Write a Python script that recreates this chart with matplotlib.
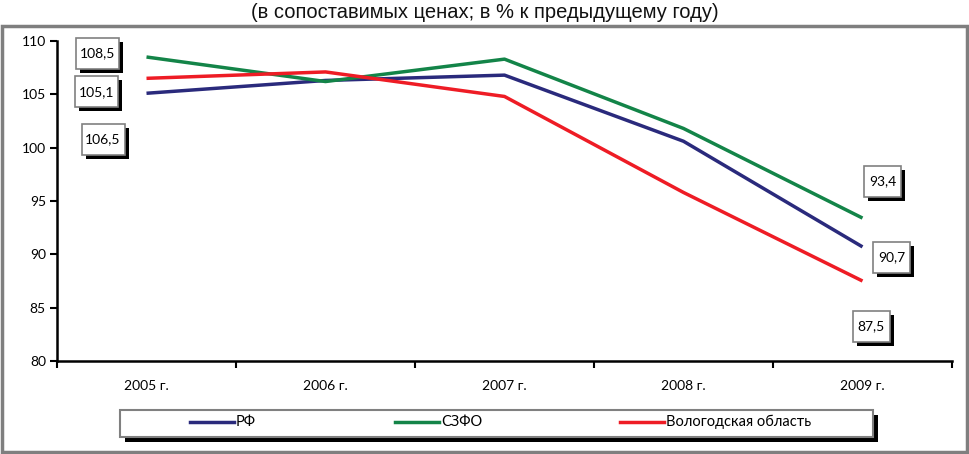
import matplotlib
matplotlib.use("Agg")
import matplotlib.pyplot as plt
from matplotlib.patches import Rectangle
from matplotlib.lines import Line2D
import matplotlib.transforms as mtransforms

years = ["2005 г.", "2006 г.", "2007 г.", "2008 г.", "2009 г."]
rf = [105.1, 106.3, 106.8, 100.6, 90.7]
szfo = [108.5, 106.2, 108.3, 101.8, 93.4]
vologda = [106.5, 107.1, 104.8, 95.8, 87.5]
series_names = ["РФ", "СЗФО", "Вологодская область"]
colors = ["#2a2a7c", "#138448", "#ee1c25"]
yticks = [80, 85, 90, 95, 100, 105, 110]
title = "(в сопоставимых ценах; в % к предыдущему году)"

plt.rcParams['font.family'] = ['Lato', 'DejaVu Sans']

W, H = 970, 454
DPI = 100
fig = plt.figure(figsize=(W / DPI, H / DPI), dpi=DPI)

def fx(x):
    return x / W

def fy(y):
    return 1 - y / H

# outer frame
fig.patches.append(Rectangle((fx(2), fy(452)), fx(965), 426 / H, transform=fig.transFigure,
                             fill=False, edgecolor="#7f7f7f", linewidth=2.5))

fig.text(0.5, fy(12), title, ha="center", va="center", fontsize=14.5,
         family=['Liberation Sans', 'DejaVu Sans'], color="#111111")

ax = fig.add_axes([fx(57), fy(361), fx(952 - 57), 320 / H])
x = list(range(len(years)))
for vals, c in zip([rf, szfo, vologda], colors):
    ax.plot(x, vals, color=c, linewidth=2.5, solid_capstyle="butt", zorder=3)

ax.set_xlim(-0.5, len(years) - 0.5)
ax.set_ylim(80, 110)
ax.set_yticks(yticks)
ax.set_yticklabels([str(v) for v in yticks], fontsize=10)
ax.set_xticks(x)
ax.set_xticklabels(years, fontsize=10)
ax.tick_params(axis="x", length=0, pad=14)
ax.set_xticks([i - 0.5 for i in range(len(years) + 1)], minor=True)
ax.tick_params(axis="x", which="minor", length=5, width=1.5, direction="out")
ax.tick_params(axis="y", length=5, width=1.5, direction="out", pad=3)
for s in ["top", "right"]:
    ax.spines[s].set_visible(False)
ax.spines["left"].set_linewidth(1.8)
ax.spines["bottom"].set_linewidth(1.8)

# data labels with shadowed boxes: (series value, label x, label y)
labels = [
    (szfo[0], -0.274, 108.83),
    (rf[0], -0.28, 105.22),
    (vologda[0], -0.243, 100.77),
    (szfo[4], 4.114, 96.87),
    (rf[4], 4.164, 89.75),
    (vologda[4], 4.05, 83.28),
]
for v, lx, ly in labels:
    s = f"{v:.1f}".replace(".", ",")
    wpx = 43 if len(s) == 5 else 37
    hpx = 31
    base = fig.dpi_scale_trans + mtransforms.ScaledTranslation(lx, ly, ax.transData)
    sh = Rectangle(((-wpx / 2 + 4) / DPI, (-hpx / 2 - 4) / DPI), wpx / DPI, hpx / DPI,
                   transform=base, facecolor="black", edgecolor="none", zorder=4,
                   clip_on=False)
    bx = Rectangle((-wpx / 2 / DPI, -hpx / 2 / DPI), wpx / DPI, hpx / DPI,
                   transform=base, facecolor="white", edgecolor="#808080", linewidth=1.2,
                   zorder=4.5, clip_on=False)
    ax.add_patch(sh)
    ax.add_patch(bx)
    ax.text(lx, ly, s, ha="center", va="center", fontsize=10, zorder=5)

# legend
lx0, ly0, lx1, ly1 = 120, 410, 873, 437
shadow = Rectangle((fx(lx0 + 5), fy(ly1 + 5)), fx(lx1 - lx0), (ly1 - ly0) / H,
                   transform=fig.transFigure, facecolor="black", edgecolor="none")
box = Rectangle((fx(lx0), fy(ly1)), fx(lx1 - lx0), (ly1 - ly0) / H,
                transform=fig.transFigure, facecolor="white", edgecolor="#808080", linewidth=1.5)
fig.patches.extend([shadow, box])
entries_x = [190, 395, 620]
ly = fy(422)
for ex, name, c in zip(entries_x, series_names, colors):
    fig.lines.append(Line2D([fx(ex), fx(ex + 44)], [ly, ly], transform=fig.transFigure,
                            color=c, linewidth=2.5))
    fig.text(fx(ex + 46), ly, name, ha="left", va="center", fontsize=10.5)

fig.savefig("out.png", dpi=DPI)
